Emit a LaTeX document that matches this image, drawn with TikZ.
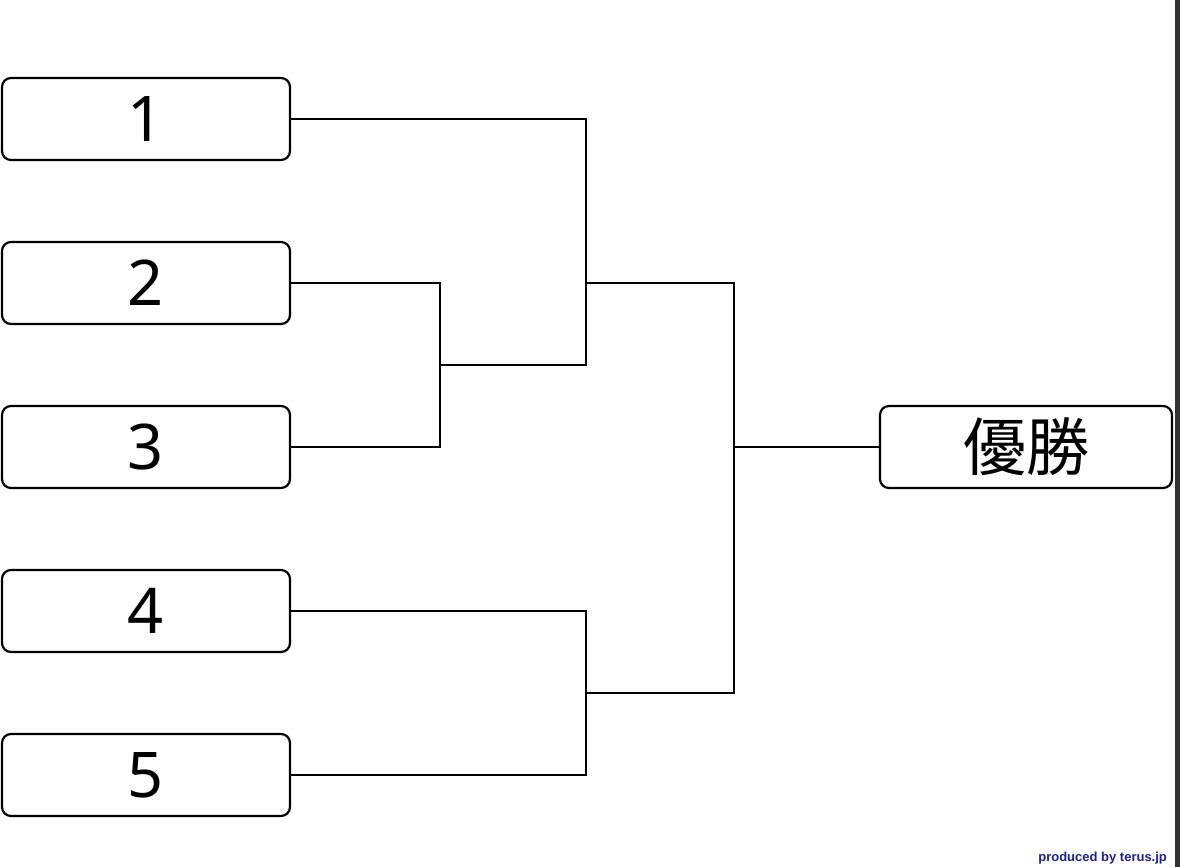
\documentclass[tikz,border=0pt]{standalone}
\usepackage{fontspec}
\setmainfont{Noto Sans}
\newfontfamily\jpfont{Noto Sans CJK JP}
\newfontfamily\creditfont{Liberation Sans}
\definecolor{creditblue}{RGB}{30,30,150}
\definecolor{edgebar}{RGB}{50,50,50}
\begin{document}
\begin{tikzpicture}[x=1pt,y=-1pt]
    \tikzstyle{entry}=[draw,line width=2.2pt,rounded corners=9pt,minimum width=288pt,minimum height=82pt,inner sep=0pt,font=\fontsize{63}{63}\selectfont];
    \tikzstyle{every path}=[line width=2.2pt];
    \useasboundingbox (0,0) rectangle (1180,867);
    \fill[edgebar] (1175,0) rectangle (1180,867);
    \node[entry] at (146, 119)  (b1) {1};
    \node[entry] at (146, 283)  (b2) {2};
    \node[entry] at (146, 447)  (b3) {3};
    \node[entry] at (146, 611)  (b4) {4};
    \node[entry] at (146, 775)  (b5) {5};
    \node[entry,minimum width=292pt] at (1026, 447) (win) {\jpfont 優勝};
    \coordinate (c23) at (440, 365);
    \coordinate (c123) at (586, 283);
    \coordinate (c45) at (586, 693);
    \coordinate (cfin) at (734, 447);
\draw (b2.east) -| (c23);
\draw (b3.east) -| (c23);
\draw (b1.east) -| (c123);
\draw (c23) -| (c123);
\draw (b4.east) -| (c45);
\draw (b5.east) -| (c45);
\draw (c123) -| (cfin);
\draw (c45) -| (cfin);
\draw (cfin) -- (win);
\node[text=creditblue,font=\creditfont\bfseries\fontsize{13}{13}\selectfont,anchor=east,inner sep=0pt] at (1168, 858) (credit) {produced by terus.jp};
\end{tikzpicture}
\end{document}
